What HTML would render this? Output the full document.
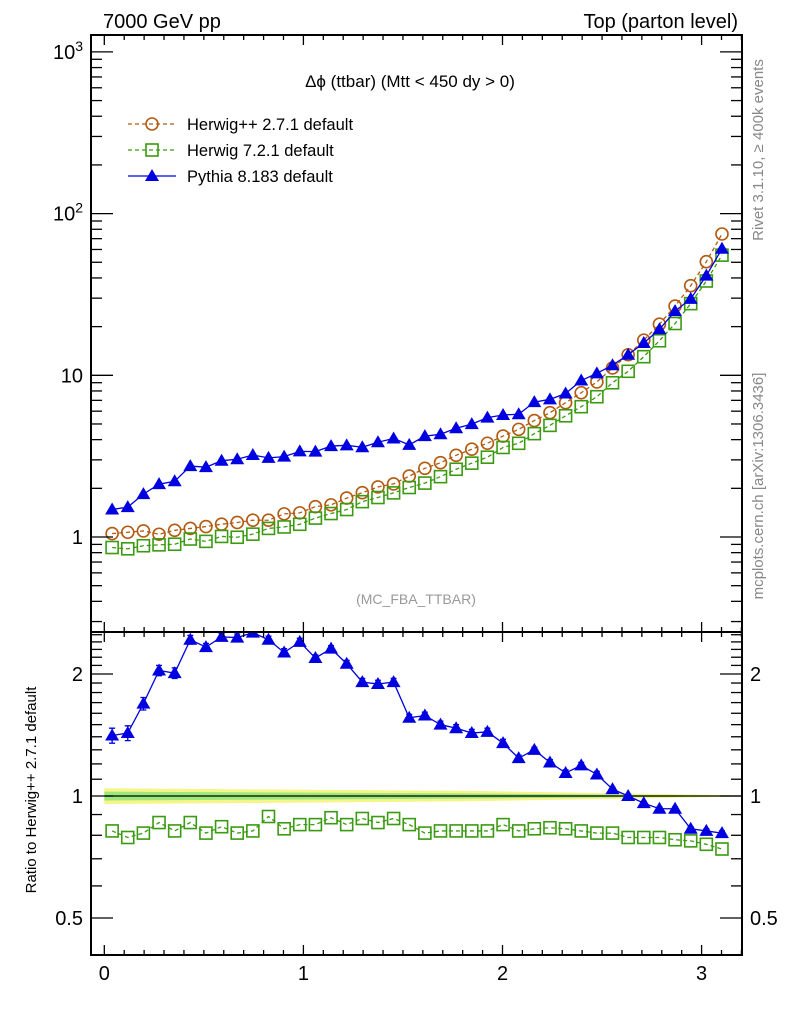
<!DOCTYPE html>
<html><head><meta charset="utf-8"><style>
body{margin:0;background:#fff}
svg{display:block;font-family:"Liberation Sans",sans-serif}
</style></head><body>
<svg id="c" width="786" height="1024" viewBox="0 0 786 1024" xmlns="http://www.w3.org/2000/svg">
<text x="103" y="28" font-size="20">7000 GeV pp</text>
<text x="738" y="28" font-size="20" text-anchor="end">Top (parton level)</text>
<text transform="translate(763,150) rotate(-90)" font-size="15" fill="#888" text-anchor="middle">Rivet 3.1.10, ≥ 400k events</text>
<text transform="translate(763,486) rotate(-90)" font-size="15" fill="#888" text-anchor="middle">mcplots.cern.ch [arXiv:1306.3436]</text>
<text x="410" y="87" font-size="17" text-anchor="middle">Δϕ (ttbar) (Mtt &lt; 450 dy &gt; 0)</text>
<text x="416" y="604" font-size="14" fill="#999" text-anchor="middle">(MC_FBA_TTBAR)</text>
<text transform="translate(36,790) rotate(-90)" font-size="15" text-anchor="middle">Ratio to Herwig++ 2.7.1 default</text>
<g>
<g>
<line x1="128" y1="124" x2="176" y2="124" stroke="#b35a10" stroke-width="1.3" stroke-dasharray="4,3"/>
<circle cx="152" cy="124" r="6" fill="none" stroke="#b35a10" stroke-width="1.6"/>
<text x="187" y="130" font-size="16.5">Herwig++ 2.7.1 default</text></g>
<g>
<line x1="128" y1="150" x2="176" y2="150" stroke="#3a9a10" stroke-width="1.3" stroke-dasharray="4,3"/>
<rect x="146" y="144" width="12" height="12" fill="none" stroke="#3a9a10" stroke-width="1.6"/>
<text x="187" y="156" font-size="16.5">Herwig 7.2.1 default</text></g>
<g>
<line x1="128" y1="176" x2="176" y2="176" stroke="#0000e0" stroke-width="1.3"/>
<polygon points="152,169 159,181 145,181" fill="#0000e0"/>
<text x="187" y="182" font-size="16.5">Pythia 8.183 default</text></g>
</g>
<g id="marks"></g>
<g id="axes"></g>
</svg>
<script>
const herwigpp = [1.05,1.07,1.09,1.04,1.10,1.13,1.16,1.20,1.23,1.27,1.27,1.39,1.41,1.54,1.58,1.74,1.88,2.04,2.13,2.38,2.66,2.88,3.20,3.49,3.80,4.21,4.63,5.25,5.87,6.77,7.80,9.1,11.1,13.4,16.5,20.7,26.8,35.8,50.4,74.8];
const ratioPythia = [1.41,1.43,1.69,2.04,2.01,2.43,2.33,2.47,2.46,2.53,2.43,2.26,2.40,2.19,2.31,2.12,1.91,1.89,1.91,1.56,1.58,1.50,1.47,1.43,1.44,1.35,1.24,1.30,1.21,1.14,1.19,1.13,1.04,1.00,0.96,0.93,0.93,0.83,0.82,0.81];
const ratioPythiaErr = [0.06,0.06,0.06,0.06,0.06,0.06,0.05,0.05,0.05,0.05,0.05,0.05,0.05,0.04,0.04,0.04,0.04,0.04,0.04,0.03,0.03,0.03,0.03,0.03,0.03,0.03,0.02,0.02,0.02,0.02,0.02,0.02,0.01,0.01,0.01,0.01,0.01,0.01,0.01,0.01];
const ratioHerwig7 = [0.82,0.79,0.81,0.86,0.82,0.86,0.81,0.84,0.81,0.82,0.89,0.83,0.85,0.85,0.884,0.85,0.88,0.86,0.88,0.85,0.81,0.82,0.82,0.82,0.82,0.85,0.82,0.83,0.835,0.83,0.82,0.81,0.81,0.79,0.79,0.79,0.78,0.775,0.76,0.74];
const xTicks = [0,1,2,3];
const mainTicks = [1,10,100,1000];
const mainTickLabels = ["1","10","10²","10³"];
const ratioTicks = [0.5,1,2];
const ratioTickLabels = ["0.5","1","2"];
const NB = 40, XMAX = Math.PI;

const L=91,R=742,T=35,MB=632,B=955;
const X = v => 104.3 + v*199.1;
const YM = v => 537 - 161.7*Math.log10(v);
const YR = v => 796 - 122*Math.log2(v);
const NS="http://www.w3.org/2000/svg";
const marks=document.getElementById('marks'), axes=document.getElementById('axes');
function mk(tag,attrs,parent){const e=document.createElementNS(NS,tag);for(const k in attrs)e.setAttribute(k,attrs[k]);parent.appendChild(e);return e;}

const centers = herwigpp.map((_,i)=>(i+0.5)*XMAX/NB);
const pythia = herwigpp.map((v,i)=>v*ratioPythia[i]);
const herwig7 = herwigpp.map((v,i)=>v*ratioHerwig7[i]);

const bandY = mk('polygon',{points:[[0,1.045],[1.8,1.03],[XMAX,1.005],[XMAX,0.995],[1.8,0.97],[0,0.955]].map(p=>X(p[0])+','+YR(p[1])).join(' '),fill:'#f5f58a'},marks);


const bandG = mk('polygon',{points:[[0,1.025],[1.8,1.015],[XMAX,1.002],[XMAX,0.998],[1.8,0.985],[0,0.975]].map(p=>X(p[0])+','+YR(p[1])).join(' '),fill:'#9de87a'},marks);


const ref = mk('line',{x1:X(0),x2:R,y1:YR(1),y2:YR(1),stroke:'#000','stroke-width':1.3},marks);



const clipD = mk('defs',{},marks);
const c1 = mk('clipPath',{id:'cm'},clipD); mk('rect',{x:L,y:T,width:R-L,height:MB-T},c1);
const c2 = mk('clipPath',{id:'cr'},clipD); mk('rect',{x:L,y:MB,width:R-L,height:B-MB},c2);

function series(vals,yf,color,dash,marker,name,clip,errs){
  const g=mk('g',{'clip-path':'url(#'+clip+')'},marks);
  
  
  const pl=mk('polyline',{points:vals.map((v,i)=>X(centers[i])+','+yf(v)).join(' '),fill:'none',stroke:color,'stroke-width':1.3},g);
  if(dash)pl.setAttribute('stroke-dasharray',dash);
  vals.forEach((v,i)=>{
    const x=X(centers[i]),y=yf(v);let m;
    if(errs){const y1=yf(v+errs[i]),y2=yf(v-errs[i]);
      const eb=mk('path',{d:`M${x},${y1}V${y2}M${x-3},${y1}H${x+3}M${x-3},${y2}H${x+3}`,stroke:color,'stroke-width':1.3,fill:'none'},g);
      
      }
    if(marker==='circle')m=mk('circle',{cx:x,cy:y,r:6,fill:'none',stroke:color,'stroke-width':1.6},g);
    else if(marker==='square')m=mk('rect',{x:x-6,y:y-6,width:12,height:12,fill:'none',stroke:color,'stroke-width':1.6},g);
    else m=mk('polygon',{points:`${x},${y-7} ${x+7},${y+5} ${x-7},${y+5}`,fill:color},g);
    
    
  });
}
series(herwigpp,YM,'#b35a10','4,3','circle','herwigpp-series','cm');
series(herwig7,YM,'#3a9a10','4,3','square','herwig7-series','cm');
series(pythia,YM,'#0000e0',null,'tri','pythia-series','cm');
series(ratioHerwig7,YR,'#3a9a10','4,3','square','herwig7-ratio-series','cr');
series(ratioPythia,YR,'#0000e0',null,'tri','pythia-ratio-series','cr',ratioPythiaErr);

const f1=mk('rect',{x:L,y:T,width:R-L,height:MB-T,fill:'none',stroke:'#000','stroke-width':2},axes);


const f2=mk('rect',{x:L,y:MB,width:R-L,height:B-MB,fill:'none',stroke:'#000','stroke-width':2},axes);



for(let k=0;k<=32;k++){const v=k/10,x=X(v);if(x>R)break;const len=k%10===0?10:5;
  [[T,1],[MB,-1],[MB,1],[B,-1]].forEach(([y0,d])=>mk('line',{x1:x,x2:x,y1:y0,y2:y0+d*len,stroke:'#000','stroke-width':1.3},axes));}
xTicks.forEach(v=>{const t=mk('text',{x:X(v),y:B+25,'font-size':20,'text-anchor':'middle'},axes);t.textContent=v;
  
  });
for(let e=-1;e<=3;e++)for(let m=1;m<=9;m++){const v=m*Math.pow(10,e),y=YM(v);if(y<T||y>MB)continue;const len=m===1?22:11;
  mk('line',{x1:L,x2:L+len,y1:y,y2:y,stroke:'#000','stroke-width':1.3},axes);
  mk('line',{x1:R,x2:R-len,y1:y,y2:y,stroke:'#000','stroke-width':1.3},axes);}
mainTicks.forEach((v,i)=>{const t=mk('text',{x:L-8,y:YM(v)+7,'font-size':20,'text-anchor':'end'},axes);
  if(v===1000||v===100){t.textContent='10';const s=mk('tspan',{dy:-8,'font-size':14},t);s.textContent=v===1000?'3':'2';}
  else t.textContent=mainTickLabels[i];
  
  });
const rt=[0.4,0.5,0.6,0.7,0.8,0.9,1,1.1,1.2,1.3,1.4,1.5,1.6,1.7,1.8,1.9,2,2.1,2.2,2.3,2.4,2.5];
rt.forEach(v=>{const y=YR(v);if(y<MB||y>B)return;const len=ratioTicks.includes(v)?22:11;
  mk('line',{x1:L,x2:L+len,y1:y,y2:y,stroke:'#000','stroke-width':1.3},axes);
  mk('line',{x1:R,x2:R-len,y1:y,y2:y,stroke:'#000','stroke-width':1.3},axes);});
ratioTicks.forEach((v,i)=>{
  const t=mk('text',{x:L-8,y:YR(v)+7,'font-size':20,'text-anchor':'end'},axes);t.textContent=ratioTickLabels[i];
  
  
  const t2=mk('text',{x:R+8,y:YR(v)+7,'font-size':20},axes);t2.textContent=ratioTickLabels[i];
  
  });
</script>
</body></html>
